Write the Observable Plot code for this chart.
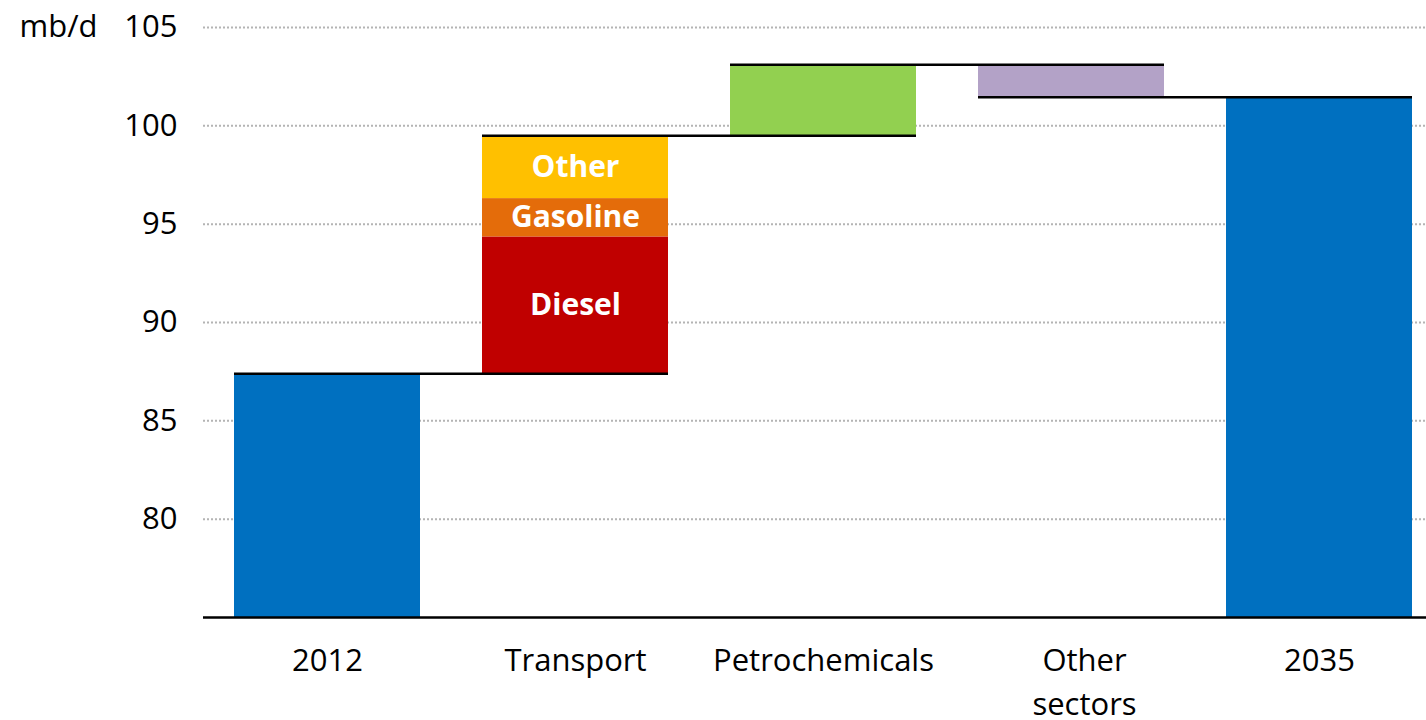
<!DOCTYPE html>
<html><head><meta charset="utf-8">
<script src="https://cdn.jsdelivr.net/npm/d3@7"></script>
<script src="https://cdn.jsdelivr.net/npm/@observablehq/plot@0.6"></script>
<style>body{margin:0;background:#fff} svg{display:block}</style>
</head><body><div id="chart"></div>
<script>
// ---- data ----
const categories = ["2012", "Transport", "Petrochemicals", "Other sectors", "2035"];
const categoryLabels = ["2012", "Transport", "Petrochemicals", "Other\nsectors", "2035"];
const stepCategory = ["2012", "Transport", "Transport", "Transport", "Petrochemicals", "Other sectors", "2035"];
const stepPart = ["2012", "Diesel", "Gasoline", "Other", "Petrochemicals", "Other sectors", "2035"];
const stepValue = [87.4, 6.95, 1.95, 3.2, 3.6, -1.65, 101.45];
const stepIsTotal = [true, false, false, false, false, false, true];
const labelledParts = ["Diesel", "Gasoline", "Other"];
const yDomain = [75, 105];
const yTicks = [80, 85, 90, 95, 100, 105];
const unitLabel = "mb/d";

// ---- styles ----
const colors = {
  "2012": "#0070C0", "2035": "#0070C0",
  "Diesel": "#C00000", "Gasoline": "#E46C0A", "Other": "#FFC000",
  "Petrochemicals": "#92D050", "Other sectors": "#B3A2C7"
};
const labelShift = {"Other sectors": 13};
const halfBar = 0.375;
const font = "'Open Sans', sans-serif";

// ---- derived ----
let running = 0;
const rects = stepPart.map((p, i) => {
  const ci = categories.indexOf(stepCategory[i]);
  let y1, y2;
  if (stepIsTotal[i]) { y1 = 0; y2 = stepValue[i]; }
  else { y1 = running; y2 = running + stepValue[i]; }
  running = y2;
  return {ci, part: p, y1, y2};
});
const ends = categories.map((c, ci) => rects.filter(r => r.ci === ci).slice(-1)[0].y2);
const connectors = categories.slice(0, -1).map((c, i) => ({x1: i - halfBar, x2: i + 1 + halfBar, y: ends[i]}));
const partLabels = rects.filter(r => labelledParts.includes(r.part));
const axisLabels = categories.map((c, i) => ({i, text: categoryLabels[i], shift: labelShift[c] || 0}));

const chart = Plot.plot({
  width: 1426,
  height: 720,
  marginTop: 27,
  marginBottom: 103,
  marginLeft: 203,
  marginRight: 0,
  style: {fontFamily: font, fontSize: "31px", color: "#000", background: "#fff", overflow: "visible"},
  x: {type: "linear", domain: [-0.5, categories.length - 0.5], range: [203, 1443], axis: null},
  y: {domain: yDomain, ticks: yTicks, tickSize: 0, tickPadding: 26, label: null},
  color: {type: "identity"},
  marks: [
    Plot.ruleY(yTicks, {stroke: "#b4b4b4", strokeWidth: 2, strokeDasharray: "2,2"}),
    Plot.rect(rects, {x1: d => d.ci - halfBar, x2: d => d.ci + halfBar, y1: "y1", y2: "y2", fill: d => colors[d.part], clip: true}),
    Plot.ruleY(connectors, {y: "y", x1: "x1", x2: "x2", stroke: "#000", strokeWidth: 2.5}),
    Plot.ruleY([yDomain[0]], {stroke: "#000", strokeWidth: 2.5}),
    Plot.text(partLabels, {x: "ci", y: d => (d.y1 + d.y2) / 2, text: "part", fill: "#fff", fontWeight: "bold", fontSize: 30}),
    ...axisLabels.map(l => Plot.text([l], {x: "i", frameAnchor: "bottom", lineAnchor: "top", dy: 22, dx: l.shift, lineHeight: 1.42, text: "text", fill: "#000", fontSize: 31})),
    Plot.text([unitLabel], {frameAnchor: "left", y: [yTicks[yTicks.length - 1]], text: d => d, textAnchor: "end", dx: -106, fill: "#000", fontSize: 31})
  ]
});
document.getElementById("chart").appendChild(chart);
</script>
</body></html>
